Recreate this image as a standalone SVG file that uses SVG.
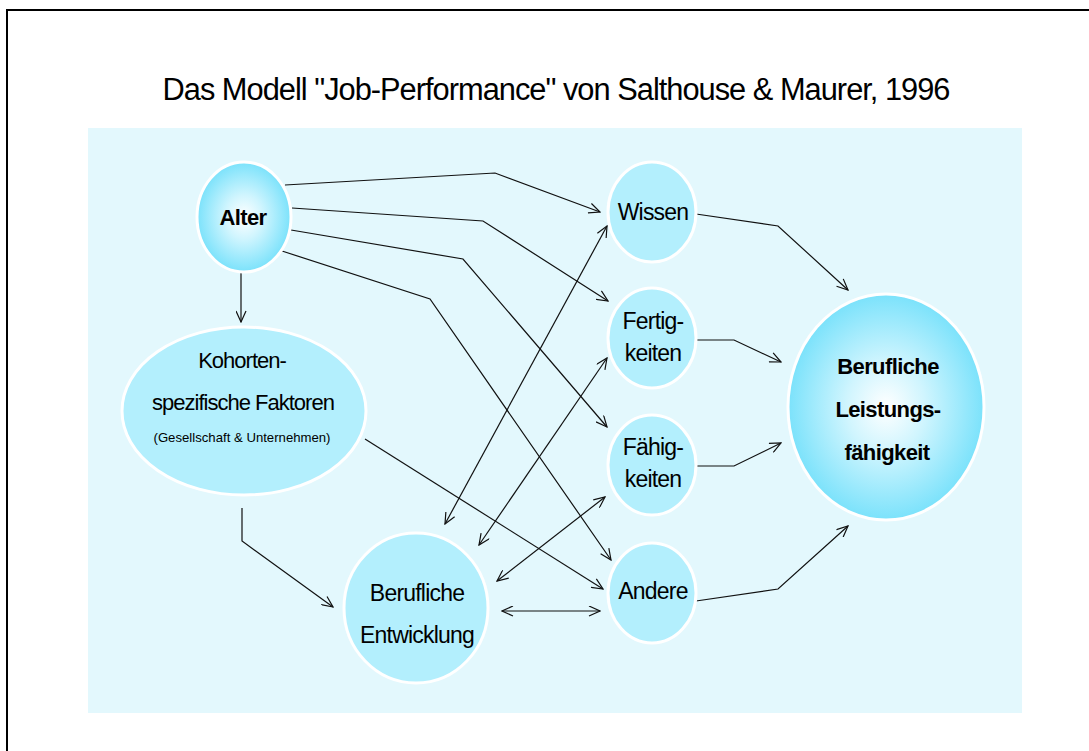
<svg xmlns="http://www.w3.org/2000/svg" width="1089" height="751" viewBox="0 0 1089 751">
<style>
.t{font-family:"Liberation Sans",Arial,sans-serif;fill:#000;text-anchor:middle}
.n{font-size:23px;letter-spacing:-0.8px}
.k{font-size:22px;letter-spacing:-1px}
.b{font-size:22px;font-weight:bold;letter-spacing:-0.6px}
.node{fill:#b3effd;stroke:#fff;stroke-width:3}
.gnode{fill:url(#rg);stroke:#fff;stroke-width:3}
.c{fill:none;stroke:#111;stroke-width:1.2}
</style>
<defs>
<radialGradient id="rg" cx="50%" cy="50%" r="50%">
<stop offset="0" stop-color="#ffffff"/>
<stop offset="0.4" stop-color="#d0f5fe"/>
<stop offset="1" stop-color="#7be2fb"/>
</radialGradient>
<marker id="ah" viewBox="0 0 13 11" refX="12" refY="5.5" markerWidth="13" markerHeight="11" markerUnits="userSpaceOnUse" orient="auto-start-reverse">
<path d="M1,0.5 L12,5.5 L1,10.5" fill="none" stroke="#111" stroke-width="1.2"/>
</marker>
</defs>
<rect x="0" y="0" width="1089" height="751" fill="#fff"/>
<rect x="7" y="10" width="1100" height="800" fill="none" stroke="#000" stroke-width="2"/>
<text class="t" x="556" y="100" font-size="31" letter-spacing="-1" textLength="787" lengthAdjust="spacingAndGlyphs">Das Modell "Job-Performance" von Salthouse &amp; Maurer, 1996</text>
<rect x="88" y="128" width="934" height="585" fill="#e3f8fd"/>
<g id="connectors">
<path class="c" d="M285,185 L495,173 L600,212" marker-end="url(#ah)"/>
<path class="c" d="M292,208 L483,221 L608,301" marker-end="url(#ah)"/>
<path class="c" d="M291,230 L463,259 L607,427" marker-end="url(#ah)"/>
<path class="c" d="M282,251 L430,299 L611,560" marker-end="url(#ah)"/>
<path class="c" d="M241,273 L241,322" marker-end="url(#ah)"/>
<path class="c" d="M365,439 L603,589" marker-end="url(#ah)"/>
<path class="c" d="M242,508 L242,541 L333,607" marker-end="url(#ah)"/>
<path class="c" d="M445,524 L607,226" marker-start="url(#ah)" marker-end="url(#ah)"/>
<path class="c" d="M479,545 L607,358" marker-start="url(#ah)" marker-end="url(#ah)"/>
<path class="c" d="M497,581 L605,497" marker-start="url(#ah)" marker-end="url(#ah)"/>
<path class="c" d="M502,611 L600,611" marker-start="url(#ah)" marker-end="url(#ah)"/>
<path class="c" d="M696,214 L778,226 L848,290" marker-end="url(#ah)"/>
<path class="c" d="M696,340 L734,340 L781,362" marker-end="url(#ah)"/>
<path class="c" d="M696,466 L734,466 L781,443" marker-end="url(#ah)"/>
<path class="c" d="M696,601 L778,589 L848,526" marker-end="url(#ah)"/>
</g>
<g id="alter">
<ellipse class="gnode" cx="244" cy="217" rx="47" ry="55"/>
<text class="t b" x="243" y="225">Alter</text>
</g>
<g id="kohorten">
<ellipse class="node" cx="244" cy="411" rx="122" ry="84"/>
<text class="t k" x="242" y="368">Kohorten-</text>
<text class="t k" x="243" y="410">spezifische Faktoren</text>
<text class="t" x="242" y="442" font-size="13.5" textLength="177" lengthAdjust="spacingAndGlyphs">(Gesellschaft &amp; Unternehmen)</text>
</g>
<g id="entwicklung">
<ellipse class="node" cx="416" cy="608" rx="72" ry="75"/>
<text class="t n" x="417" y="601">Berufliche</text>
<text class="t n" x="417" y="643">Entwicklung</text>
</g>
<g id="wissen">
<ellipse class="node" cx="652" cy="212" rx="44" ry="50"/>
<text class="t n" x="653" y="220">Wissen</text>
</g>
<g id="fertigkeiten">
<ellipse class="node" cx="652" cy="338" rx="44" ry="50"/>
<text class="t n" x="653" y="329">Fertig-</text>
<text class="t n" x="653" y="361">keiten</text>
</g>
<g id="faehigkeiten">
<ellipse class="node" cx="652" cy="465" rx="44" ry="50"/>
<text class="t n" x="653" y="455">Fähig-</text>
<text class="t n" x="653" y="487">keiten</text>
</g>
<g id="andere">
<ellipse class="node" cx="652" cy="593" rx="44" ry="50"/>
<text class="t n" x="653" y="599">Andere</text>
</g>
<g id="leistung">
<ellipse class="gnode" cx="886" cy="407" rx="98" ry="113"/>
<text class="t b" x="888" y="374">Berufliche</text>
<text class="t b" x="888" y="417">Leistungs-</text>
<text class="t b" x="887" y="460">fähigkeit</text>
</g>
</svg>
